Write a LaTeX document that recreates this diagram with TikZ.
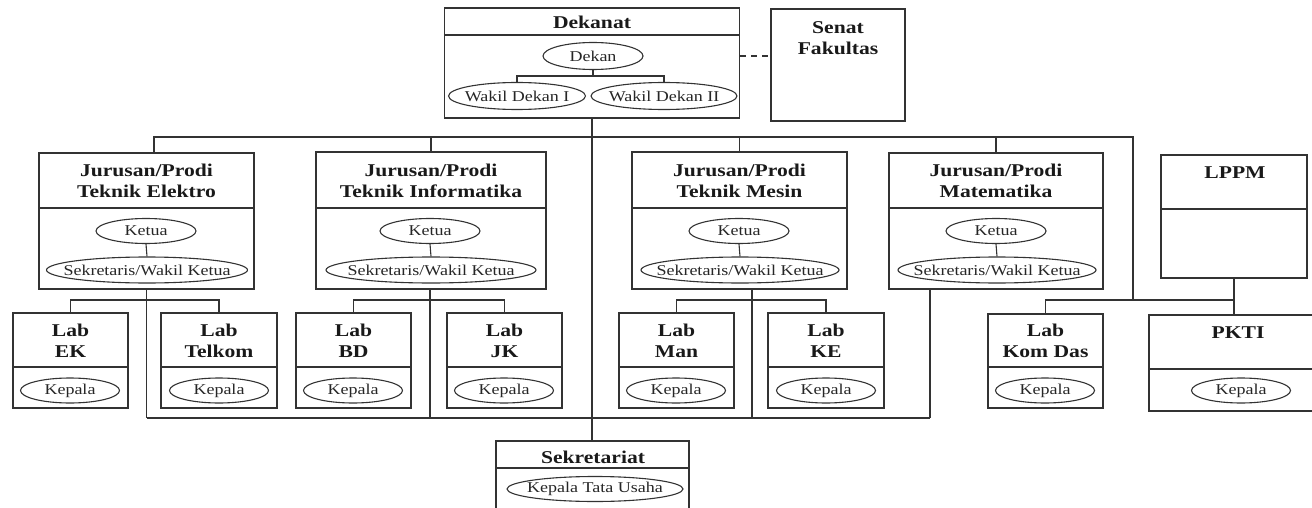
\documentclass[tikz,border=0pt]{standalone}
\usepackage{fontspec}
\setmainfont{Liberation Serif}[FakeStretch=1.2]
\usetikzlibrary{shapes.geometric}
\newcommand\zwbox[1]{\makebox[0pt]{#1}}
\begin{document}
\begin{tikzpicture}[x=1pt,y=-1pt,line width=1.1pt,color=black!80,
  box/.style={draw,rectangle,inner sep=0pt},
  ttl/.style={font=\bfseries\fontsize{18}{21}\selectfont,align=center,inner sep=0pt,text=black!90},
  role/.style={draw,ellipse,inner sep=0pt,minimum height=26pt,font=\fontsize{15}{17}\selectfont,text=black!85},
  dashline/.style={dashed,dash pattern=on 6pt off 5pt}]
\useasboundingbox (0,0) rectangle (1312,508);
\clip (0,0) rectangle (1312,508);
% ---------- boxes ----------
\node[box,minimum width=295pt,minimum height=110pt] (dek) at (592,63) {};
\node[box,minimum width=134pt,minimum height=112pt] (senat) at (838,65) {};
\node[box,minimum width=215pt,minimum height=136pt] (el) at (146.5,221) {};
\node[box,minimum width=230pt,minimum height=137pt] (inf) at (431,220.5) {};
\node[box,minimum width=215pt,minimum height=137pt] (mes) at (739.5,220.5) {};
\node[box,minimum width=214pt,minimum height=136pt] (mat) at (996,221) {};
\node[box,minimum width=146pt,minimum height=123pt] (lppm) at (1234,216.5) {};
\node[box,minimum width=115pt,minimum height=95pt] (ek) at (70.5,360.5) {};
\node[box,minimum width=116pt,minimum height=95pt] (tk) at (219,360.5) {};
\node[box,minimum width=115pt,minimum height=95pt] (bd) at (353.5,360.5) {};
\node[box,minimum width=115pt,minimum height=95pt] (jk) at (504.5,360.5) {};
\node[box,minimum width=115pt,minimum height=95pt] (man) at (676.5,360.5) {};
\node[box,minimum width=116pt,minimum height=95pt] (ke) at (826,360.5) {};
\node[box,minimum width=115pt,minimum height=94pt] (kd) at (1045.5,361) {};
\node[box,minimum width=178pt,minimum height=96pt] (pkti) at (1238,363) {};
\node[box,minimum width=193pt,minimum height=89pt] (sek) at (592.5,485.5) {};
% ---------- dividers ----------
\draw (dek.west |- 0,35) -- (dek.east |- 0,35);
\foreach \b in {el,inf,mes,mat} {\draw (\b.west |- 0,208) -- (\b.east |- 0,208);}
\draw (lppm.west |- 0,209) -- (lppm.east |- 0,209);
\foreach \b in {ek,tk,bd,jk,man,ke,kd} {\draw (\b.west |- 0,367) -- (\b.east |- 0,367);}
\draw (pkti.west |- 0,369) -- (pkti.east |- 0,369);
\draw (sek.west |- 0,468) -- (sek.east |- 0,468);
% ---------- titles ----------
\node[ttl] (tdek) at (592,22) {Dekanat};
\node[ttl] (tsen) at (838,38.5) {Senat\\Fakultas};
\node[ttl] (tel) at (146.5,181) {Jurusan/Prodi\\Teknik Elektro};
\node[ttl] (tinf) at (431,181) {Jurusan/Prodi\\Teknik Informatika};
\node[ttl] (tmes) at (739.5,181) {Jurusan/Prodi\\Teknik Mesin};
\node[ttl] (tmat) at (996,181) {Jurusan/Prodi\\Matematika};
\node[ttl] (tlppm) at (1235,173) {LPPM};
\node[ttl] (tek) at (70.5,341) {Lab\\EK};
\node[ttl] (ttk) at (219,341) {Lab\\Telkom};
\node[ttl] (tbd) at (353.5,341) {Lab\\BD};
\node[ttl] (tjk) at (504.5,341) {Lab\\JK};
\node[ttl] (tman) at (676.5,341) {Lab\\Man};
\node[ttl] (tke) at (826,341) {Lab\\KE};
\node[ttl] (tkd) at (1045.5,341) {Lab\\Kom Das};
\node[ttl] (tpkti) at (1238,333) {PKTI};
\node[ttl] (tsek) at (593,457) {Sekretariat};
% ---------- roles ----------
\node[role,minimum width=100pt,minimum height=27pt] (dekan) at (593,56) {\zwbox{Dekan}};
\node[role,minimum width=137pt,minimum height=27pt] (wd1) at (517,96) {\zwbox{Wakil Dekan I}};
\node[role,minimum width=146pt,minimum height=27pt] (wd2) at (664,96) {\zwbox{Wakil Dekan II}};
\node[role,minimum width=100pt,minimum height=25pt] (k1) at (146,231) {\zwbox{Ketua}};
\node[role,minimum width=100pt,minimum height=25pt] (k2) at (430,231) {\zwbox{Ketua}};
\node[role,minimum width=100pt,minimum height=25pt] (k3) at (739,231) {\zwbox{Ketua}};
\node[role,minimum width=100pt,minimum height=25pt] (k4) at (996,231) {\zwbox{Ketua}};
\node[role,minimum width=201pt] (s1) at (147,270) {\zwbox{Sekretaris/Wakil Ketua}};
\node[role,minimum width=210pt] (s2) at (431,270) {\zwbox{Sekretaris/Wakil Ketua}};
\node[role,minimum width=198pt] (s3) at (740,270) {\zwbox{Sekretaris/Wakil Ketua}};
\node[role,minimum width=198pt] (s4) at (997,270) {\zwbox{Sekretaris/Wakil Ketua}};
\foreach \n/\x in {kek/70,ktk/219,kbd/353,kjk/504,kman/676,kke/826,kkd/1045,kpk/1241}
  {\node[role,minimum width=99pt,minimum height=25pt] (\n) at (\x,390.5) {\zwbox{Kepala}};}
\node[role,minimum width=176pt,minimum height=25pt] (ktu) at (595,489) {\zwbox{Kepala Tata Usaha}};
% ---------- connectors ----------
\draw (dekan.south) -- ++(0,6) coordinate (dj);
\draw (wd1.north) |- (dj) -| (wd2.north);
\draw[dashline] (dek.east |- dekan) -- (senat.west |- dekan);
\draw (dek.south) -- (dek.south |- sek.north);
\coordinate (busL) at (154,137);
\coordinate (busR) at (1133,137);
\draw (busL |- el.north) -- (busL) -- (busR) -- (busR |- 0,300) coordinate (kdj);
\draw (inf.north) -- (inf.north |- busL);
\draw (mes.north) -- (mes.north |- busL);
\draw (mat.north) -- (mat.north |- busL);
\draw (kd.north) -- (kd.north |- kdj) -- (lppm.south |- kdj);
\draw (lppm.south) -- (pkti.north -| lppm.south);
\foreach \a/\b in {k1/s1,k2/s2,k3/s3,k4/s4} {\draw (\a.south) -- (\b.north);}
% jurusan to labs
\draw (el.south) -- (el.south |- 0,418);
\draw (inf.south -| 430,0) -- (430,418);
\draw (mes.south -| 752,0) -- (752,418);
\draw (mat.south -| 930,0) -- (930,418);
\draw (el.south |- 0,418) -- (930,418);
\draw (ek.north) |- (tk.north |- 0,300) -- (tk.north);
\draw (bd.north) |- (jk.north |- 0,300) -- (jk.north);
\draw (man.north) |- (ke.north |- 0,300) -- (ke.north);
\end{tikzpicture}
\end{document}
